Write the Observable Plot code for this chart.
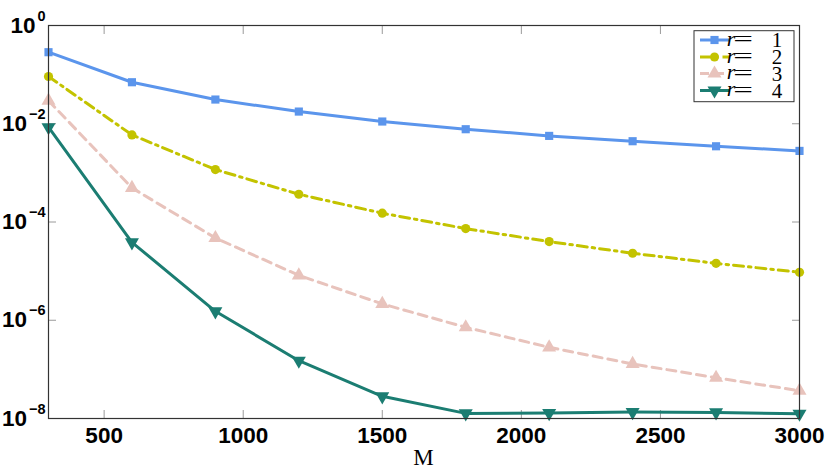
<!DOCTYPE html>
<html><head><meta charset="utf-8">
<script src="https://cdn.jsdelivr.net/npm/d3@7"></script>
<script src="https://cdn.jsdelivr.net/npm/@observablehq/plot@0.6"></script>
<style>body{margin:0;background:#fff}#chart{width:830px;height:469px}</style>
</head><body><div id="chart"></div>
<script>
const M = [300, 600, 900, 1200, 1500, 1800, 2100, 2400, 2700, 3000];
const errR1 = [0.286, 0.070, 0.0311, 0.0177, 0.0111, 0.00774, 0.00566, 0.00441, 0.00348, 0.0028];
const errR2 = [0.0915, 0.00593, 0.00117, 3.67e-4, 1.51e-4, 7.34e-5, 3.99e-5, 2.31e-5, 1.44e-5, 9.47e-6];
const errR3 = [0.0295, 4.95e-4, 4.73e-5, 8.2e-6, 2.15e-6, 7.18e-7, 2.81e-7, 1.29e-7, 6.76e-8, 3.68e-8];
const errR4 = [0.0085, 3.86e-5, 1.52e-6, 1.50e-7, 2.83e-8, 1.27e-8, 1.29e-8, 1.35e-8, 1.33e-8, 1.25e-8];
const seriesLabels = ["1", "2", "3", "4"];
const xTicks = [500, 1000, 1500, 2000, 2500, 3000];
const yTicks = [1e0, 1e-2, 1e-4, 1e-6, 1e-8];
const yExponents = ["0", "\u22122", "\u22124", "\u22126", "\u22128"];
const xLabel = "M";

const triDown = {
  draw(ctx, size) {
    const y = -Math.sqrt(size / (Math.sqrt(3) * 3));
    ctx.moveTo(0, -y * 2);
    ctx.lineTo(-Math.sqrt(3) * y, y);
    ctx.lineTo(Math.sqrt(3) * y, y);
    ctx.closePath();
  }
};

const styles = [
  {color: "#5b95ec", dash: null, symbol: "square", r: 4.6},
  {color: "#c3c300", dash: "10,5,2.5,5", symbol: "circle", r: 4.6},
  {color: "#e8c3bc", dash: "9,6", symbol: "triangle", r: 5.2},
  {color: "#1b7d72", dash: null, symbol: triDown, r: 5.2}
];
const allErr = [errR1, errR2, errR3, errR4];
const series = allErr.map((vals, i) => M.map((m, j) => ({M: m, err: vals[j], r: seriesLabels[i]})));

const marks = [];
series.forEach((data, i) => {
  const s = styles[i];
  marks.push(Plot.line(data, {x: "M", y: "err", stroke: s.color, strokeWidth: 3, strokeDasharray: s.dash}));
});
series.forEach((data, i) => {
  const s = styles[i];
  marks.push(Plot.dot(data, {x: "M", y: "err", fill: s.color, symbol: s.symbol, r: s.r, stroke: "none"}));
});

const tickColor = "#9a9a9a";
const font = {fontFamily: "Liberation Sans, Arial, sans-serif", fontWeight: "bold", fontSize: 22.5};

const plot = Plot.plot({
  width: 830, height: 469,
  marginLeft: 48, marginRight: 31, marginTop: 25, marginBottom: 51,
  x: {domain: [300, 3000]},
  y: {type: "log", domain: [1e-8, 1]},
  style: {background: "#fff", color: "#000"},
  marks: [
    Plot.axisX(xTicks, {anchor: "bottom", tickSize: 8, dy: -8, tickPadding: 9, stroke: tickColor, fill: "#000", label: null, tickFormat: d => String(d), ...font}),
    Plot.axisX(xTicks, {anchor: "top", tickSize: 8, dy: 8, stroke: tickColor, label: null, tickFormat: () => ""}),
    Plot.axisY(yTicks, {anchor: "left", tickSize: 8, dx: 8, tickPadding: 3, stroke: tickColor, fill: "#000", label: null, tickFormat: d => "10^" + yExponents[yTicks.indexOf(d)], ...font}),
    Plot.axisY(yTicks, {anchor: "right", tickSize: 8, dx: -8, stroke: tickColor, label: null, tickFormat: () => ""}),
    ...marks,
    Plot.frame({stroke: "#333", strokeWidth: 1.2})
  ]
});
document.getElementById("chart").appendChild(plot);

// superscripts for y tick labels
d3.select(plot).selectAll('g[aria-label="y-axis tick label"] text').each(function() {
  const t = d3.select(this);
  const txt = t.text();
  if (!txt.includes("^")) return;
  const [base, exp] = txt.split("^");
  t.text(null);
  t.append("tspan").text(base);
  t.append("tspan").attr("dx", "2").attr("dy", "-12").attr("font-size", "14.5px").text(exp);
});

const svg = d3.select(plot);
// x axis label
const xs = plot.scale("x");
svg.append("text")
  .attr("x", (xs.range[0] + xs.range[1]) / 2)
  .attr("y", 465)
  .attr("text-anchor", "middle")
  .attr("font-family", "Liberation Serif, Times New Roman, serif")
  .attr("font-size", 23)
  .attr("fill", "#000")
  .text(xLabel);

// legend
const lg = svg.append("g").attr("class", "legend");
const lx = 694, ly = 30.7, lw = 100, lh = 71;
lg.append("rect").attr("x", lx).attr("y", ly).attr("width", lw).attr("height", lh)
  .attr("fill", "#fff").attr("stroke", "#333").attr("stroke-width", 1);
const rowY = [40, 57, 73.5, 90.5];
const lfont = "Liberation Serif, Times New Roman, serif";
styles.forEach((s, i) => {
  const y = rowY[i];
  lg.append("line").attr("x1", 700).attr("x2", 729).attr("y1", y).attr("y2", y)
    .attr("stroke", s.color).attr("stroke-width", 3).attr("stroke-dasharray", s.dash || null);
  const sym = typeof s.symbol === "string"
    ? {square: d3.symbolSquare, circle: d3.symbolCircle, triangle: d3.symbolTriangle}[s.symbol]
    : s.symbol;
  lg.append("path").attr("d", d3.symbol(sym, Math.PI * s.r * s.r)()).attr("transform", `translate(714.5,${y})`).attr("fill", s.color);
  lg.append("text").attr("x", 731).attr("y", y + 5.5).attr("font-family", lfont).attr("font-style", "italic")
    .attr("font-size", 22).attr("fill", "#000").text("r");
  lg.append("text").attr("transform", `translate(743,${y + 6}) scale(1.75,1)`).attr("font-family", lfont)
    .attr("font-size", 20).attr("fill", "#000").text("=");
  lg.append("text").attr("x", 777).attr("y", y + 7).attr("font-family", lfont)
    .attr("font-size", 21).attr("fill", "#000").text(seriesLabels[i]);
});
</script>
</body></html>
